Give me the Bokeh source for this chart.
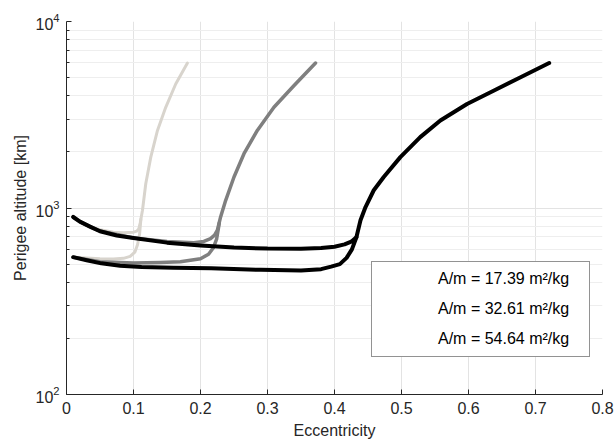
from bokeh.plotting import figure
from bokeh.models import FixedTicker, Legend, LegendItem, LogTickFormatter
from bokeh.embed import file_html
from bokeh.resources import INLINE

# ---- data ----
labels = ["A/m = 17.39 m\u00b2/kg", "A/m = 32.61 m\u00b2/kg", "A/m = 54.64 m\u00b2/kg"]
colors = ["#d8d4cd", "#7f7f7f", "#000000"]

# series 1 (17.39 m2/kg): upper branch continuing into the rising branch, and lower branch
s1_upper_e = [0.010, 0.020, 0.035, 0.050, 0.070, 0.085, 0.100, 0.105, 0.108, 0.110,
              0.1134, 0.1183, 0.1258, 0.1358, 0.1481, 0.1630, 0.1805]
s1_upper_h = [895, 845, 795, 765, 742, 737, 742, 752, 775, 830,
              973, 1349, 1874, 2606, 3467, 4624, 5990]
s1_lower_e = [0.010, 0.030, 0.050, 0.070, 0.085, 0.095, 0.102, 0.106, 0.109, 0.111]
s1_lower_h = [545, 540, 535, 533, 537, 550, 580, 635, 720, 870]

# series 2 (32.61 m2/kg)
s2_upper_e = [0.010, 0.020, 0.035, 0.050, 0.100, 0.150, 0.190, 0.205, 0.215, 0.221, 0.2252,
              0.2300, 0.2376, 0.2500, 0.2649, 0.2848, 0.3096, 0.3393, 0.3717]
s2_upper_h = [895, 845, 795, 752, 690, 662, 652, 662, 685, 715, 760,
              896, 1099, 1466, 1954, 2606, 3467, 4525, 5990]
s2_lower_e = [0.010, 0.050, 0.100, 0.140, 0.170, 0.200, 0.212, 0.219, 0.224, 0.228]
s2_lower_h = [545, 515, 507, 510, 515, 535, 565, 610, 680, 830]

# series 3 (54.64 m2/kg)
s3_upper_e = [0.010, 0.020, 0.035, 0.050, 0.075, 0.100, 0.150, 0.200, 0.250, 0.300, 0.350,
              0.380, 0.400, 0.415, 0.425, 0.4327,
              0.4388, 0.4463, 0.4586, 0.4735, 0.4983, 0.5280, 0.5580, 0.5978, 0.6374, 0.6770, 0.7204]
s3_upper_h = [895, 845, 795, 750, 712, 690, 652, 630, 614, 606, 605,
              610, 620, 638, 660, 697,
              859, 1012, 1245, 1466, 1874, 2399, 2945, 3613, 4256, 5012, 5990]
s3_lower_e = [0.010, 0.030, 0.052, 0.080, 0.112, 0.160, 0.216, 0.290, 0.350, 0.380,
              0.395, 0.408, 0.418, 0.426, 0.4327]
s3_lower_h = [545, 525, 505, 490, 482, 478, 475, 466, 462, 470,
              485, 500, 540, 600, 697]

x_ticks = [0, 0.1, 0.2, 0.3, 0.4, 0.5, 0.6, 0.7, 0.8]
y_ticks = [100, 1000, 10000]
y_minor = [m * d for d in (100, 1000) for m in range(2, 10)]

series = [
    (s1_upper_e, s1_upper_h, s1_lower_e, s1_lower_h, 3.0),
    (s2_upper_e, s2_upper_h, s2_lower_e, s2_lower_h, 3.5),
    (s3_upper_e, s3_upper_h, s3_lower_e, s3_lower_h, 4.0),
]

TXT = "#262626"
FONT = "Liberation Sans"
FS = "16px"

p = figure(width=614, height=445, x_range=(0, 0.8), y_range=(100, 10000),
           y_axis_type="log", output_backend="svg", toolbar_location=None,
           min_border_left=66, min_border_right=12, min_border_top=21, min_border_bottom=51)
p.outline_line_color = None
p.background_fill_color = "white"

p.xaxis.ticker = FixedTicker(ticks=x_ticks)
p.yaxis.ticker = FixedTicker(ticks=y_ticks, minor_ticks=y_minor)
p.yaxis.formatter = LogTickFormatter()
p.xaxis.major_label_overrides = {0: "0"}
p.xgrid.grid_line_color = "#e3e3e3"
p.ygrid.grid_line_color = "#e3e3e3"
p.ygrid.minor_grid_line_color = "#eeeeee"

for ax in (p.xaxis[0], p.yaxis[0]):
    ax.axis_line_color = TXT
    ax.major_tick_line_color = TXT
    ax.minor_tick_line_color = TXT
    ax.major_tick_in = 5
    ax.major_tick_out = 0
    ax.minor_tick_in = 3
    ax.minor_tick_out = 0
    ax.major_label_text_font = FONT
    ax.major_label_text_font_size = FS
    ax.major_label_text_color = TXT
    ax.axis_label_text_font = FONT
    ax.axis_label_text_font_size = FS
    ax.axis_label_text_font_style = "normal"
    ax.axis_label_text_color = TXT
p.xaxis.minor_tick_line_color = None
p.xaxis.major_label_standoff = 7
p.xaxis.axis_label_standoff = 5
p.yaxis.major_label_standoff = 7
p.yaxis.axis_label_standoff = 3
p.xaxis.axis_label = "Eccentricity"
p.yaxis.axis_label = "Perigee altitude [km]"

items = []
for (ue, uh, le, lh, w), col, lab in zip(series, colors, labels):
    p.line(ue, uh, line_color=col, line_width=w, line_cap="round", line_join="round")
    p.line(le, lh, line_color=col, line_width=w, line_cap="round", line_join="round")
    dot = p.scatter(x=[], y=[], marker="circle", size=3.5, fill_color=col, line_color=col)
    items.append(LegendItem(label=lab, renderers=[dot]))

legend = Legend(items=items, location=(305, 37), orientation="vertical",
                padding=2, spacing=0, label_height=30, glyph_height=30, glyph_width=64,
                label_standoff=0, label_width=149, margin=0,
                label_text_font=FONT, label_text_font_size=FS, label_text_color="#000000",
                border_line_color="#262626", border_line_width=1, background_fill_alpha=1)
p.add_layout(legend, "center")

open("out.html", "w").write(file_html(p, INLINE))
